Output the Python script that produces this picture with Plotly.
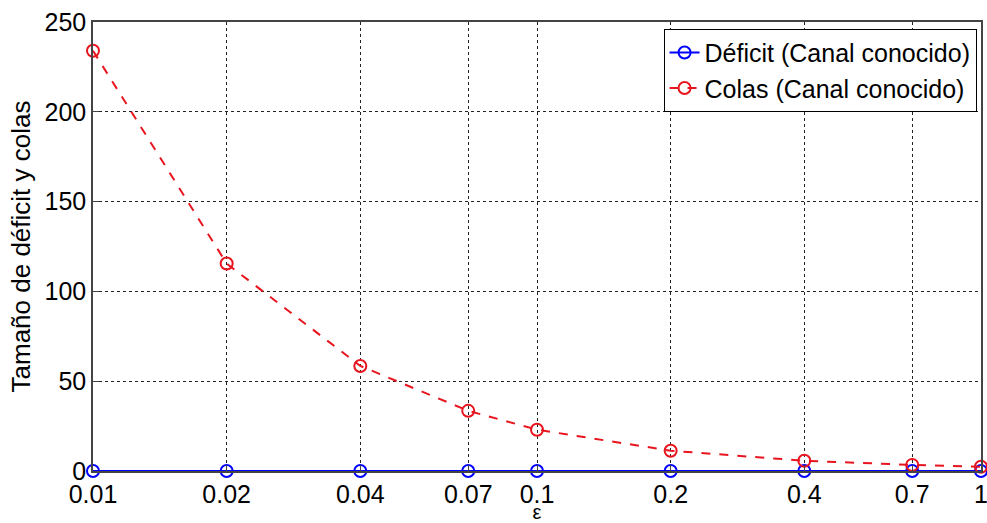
import plotly.graph_objects as go

eps = [0.01, 0.02, 0.04, 0.07, 0.1, 0.2, 0.4, 0.7, 1]
deficit = [0, 0, 0, 0, 0, 0, 0, 0, 0]
colas = [234, 115.5, 58.5, 33.5, 23, 11.3, 5.7, 3.4, 2.4]
xtick_vals = [0.01, 0.02, 0.04, 0.07, 0.1, 0.2, 0.4, 0.7, 1]
xtick_text = ["0.01", "0.02", "0.04", "0.07", "0.1", "0.2", "0.4", "0.7", "1"]
ytick_vals = [0, 50, 100, 150, 200, 250]

FONT = "Liberation Sans, Arial, sans-serif"

fig = go.Figure()
fig.add_trace(go.Scatter(
    x=eps, y=deficit, mode="lines+markers", name="Déficit (Canal conocido)",
    line=dict(color="#0000FF", width=2),
    marker=dict(symbol="circle-open", size=12, color="#0000FF", line=dict(width=2)),
    cliponaxis=False,
))
fig.add_trace(go.Scatter(
    x=eps, y=colas, mode="lines+markers", name="Colas (Canal conocido)",
    line=dict(color="#E8141E", width=2, dash="dash"),
    marker=dict(symbol="circle-open", size=12, color="#E8141E", line=dict(width=2)),
    cliponaxis=False,
))

axis_common = dict(
    showline=True, linecolor="#444444", linewidth=1.5, mirror=True,
    ticks="inside", ticklen=6, tickcolor="#444444",
    showgrid=True, gridcolor="#222222", gridwidth=1, griddash="dot",
    zeroline=False, automargin=False, ticklabeloverflow="allow",
    tickfont=dict(family=FONT, size=25, color="black"),
)

fig.update_layout(
    template="none",
    width=987, height=523,
    margin=dict(l=93, r=6, t=22, b=52),
    paper_bgcolor="white", plot_bgcolor="white",
    font=dict(family=FONT, color="black"),
    xaxis=dict(type="log", range=[-2, 0], tickvals=xtick_vals, ticktext=xtick_text,
               title=dict(text="ε", font=dict(family=FONT, size=20), standoff=13),
               **axis_common),
    yaxis=dict(range=[0, 250], tickvals=ytick_vals,
               title=dict(text="Tamaño de déficit y colas", font=dict(family=FONT, size=26), standoff=6),
               **axis_common),
    legend=dict(x=0.995, y=0.985, xanchor="right", yanchor="top",
                bgcolor="white", bordercolor="black", borderwidth=1,
                font=dict(family=FONT, size=25), itemwidth=30,
                tracegroupgap=0),
    showlegend=True,
)

fig.write_html("out.html")
